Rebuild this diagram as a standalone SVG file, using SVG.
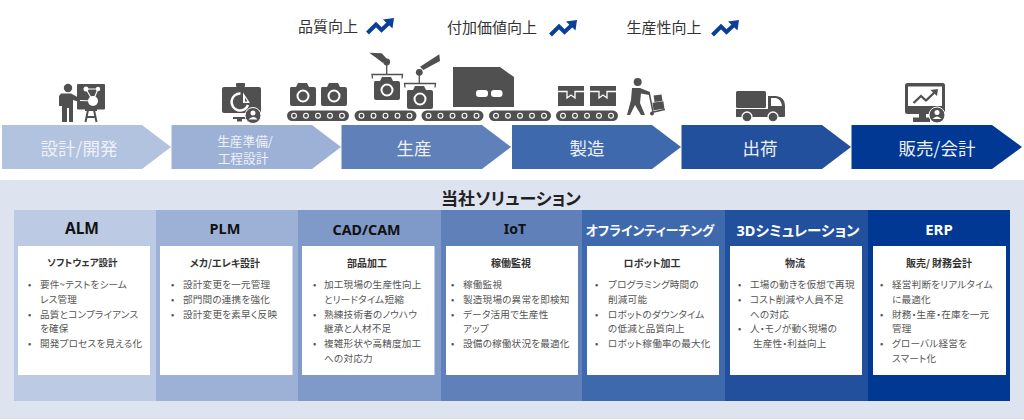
<svg xmlns="http://www.w3.org/2000/svg" width="1024" height="420" viewBox="0 0 1024 420">
<defs>
<style>
text{font-family:"Noto Sans CJK JP","Noto Sans",sans-serif;font-feature-settings:"palt"}
.ic{fill:#505050}
.top{font-size:15px;fill:#333;text-anchor:middle;dominant-baseline:central}
.ch{fill:#eef1f7;text-anchor:middle;dominant-baseline:central;font-size:17.5px}
.hd{font-family:"Noto Sans","Noto Sans CJK JP",sans-serif;font-weight:700;font-size:15.5px;text-anchor:middle;dominant-baseline:central}
.sub{font-weight:700;font-size:10px;fill:#333;text-anchor:middle;dominant-baseline:central}
.b{font-size:9.6px;letter-spacing:.2px;fill:#555;dominant-baseline:central}
.box{fill:#fff}
.wh{fill:#fff}
</style>
<g id="arr"><path d="M1.500 15 10 6.500 15.500 12 24 4" fill="none" stroke="#0a3f99" stroke-width="4"/><path d="M28 0 17 1.500 26.500 10.500Z" fill="#0a3f99"/></g>
<g id="belt"><rect x="0" y="0" width="62" height="10.500" rx="5.200" class="ic"/><g fill="#505050" stroke="#fff" stroke-width="1.100"><circle cx="7" cy="5.200" r="2.400"/><circle cx="19" cy="5.200" r="2.400"/><circle cx="31" cy="5.200" r="2.400"/><circle cx="43" cy="5.200" r="2.400"/><circle cx="55" cy="5.200" r="2.400"/></g></g>
<g id="cam"><path d="M1 5Q0 5 0 7V22Q0 24 2 24H24Q26 24 26 22V7Q26 5 24 5H19L17 1H8L6 5Z" class="ic"/><circle cx="13" cy="14" r="5.500" fill="#505050" stroke="#fff" stroke-width="2"/></g>
<g id="box"><rect width="26" height="20" class="ic"/><path d="M0 5.500H9V12L13 9 17 12V5.500H26" fill="none" stroke="#fff" stroke-width="1.300"/></g>
<g id="usr"><circle r="8" class="ic" stroke="#fff" stroke-width="1"/><circle cy="-2.500" r="2.500" class="wh"/><path d="M-4.500 4Q0 -1 4.500 4Z" class="wh"/></g>
</defs>
<rect width="1024" height="420" fill="#fff"/>
<g id="labels">
<text class="top" x="328" y="25">品質向上</text>
<text class="top" x="492" y="26">付加価値向上</text>
<text class="top" x="664" y="26">生産性向上</text>
<use href="#arr" x="366" y="18"/>
<use href="#arr" x="549" y="20"/>
<use href="#arr" x="711" y="20"/>
</g>
<g id="icons">
<g id="icon-design">
<circle cx="68" cy="88" r="4.200" class="ic"/>
<path d="M61 93.500H71L81 99 79.500 102 73 100V122H69V108H67V122H62V106H59V96Z" class="ic"/>
<rect x="77" y="84" width="28" height="25.500" rx="1" class="ic"/>
<path d="M86 89H98L93 101 80 100.500M86 89 93 101" stroke="#fff" stroke-width="1.200" fill="none"/>
<circle cx="86" cy="89" r="2.500" class="wh"/><circle cx="98" cy="89" r="2.200" class="wh"/><circle cx="93" cy="101" r="5" class="wh"/>
<path d="M85 110H97M88 110 85.500 122M94 110 96.500 122M86.500 117H95.500" stroke="#505050" stroke-width="2" fill="none"/>
</g>
<g id="icon-prep">
<rect x="222" y="87" width="39" height="26" rx="2" class="ic"/>
<rect x="236" y="83" width="9" height="4" rx="1" class="ic"/>
<path d="M240.500 93.500A8.500 8.500 0 1 0 248 105" fill="none" stroke="#fff" stroke-width="2.500"/>
<path d="M243 92.500 250 103H243Z" class="wh"/>
<path d="M245 97.500 247.500 101.500H245Z" class="ic"/>
<path d="M233 117H246V119H242V121.500H237V119H233Z" class="ic"/>
<use href="#usr" x="253" y="115.500"/>
</g>
<g id="icon-production">
<use href="#cam" x="290" y="82"/><use href="#cam" x="321" y="82"/>
<use href="#belt" x="287" y="110.500"/><use href="#belt" x="354.500" y="110.500"/><use href="#belt" x="421.500" y="110.500"/><use href="#belt" x="489" y="110.500"/>
<use href="#cam" x="374" y="76"/><use href="#cam" x="407" y="85"/>
<path d="M369.300 52.700 381.700 53.300 387 59 383 63 376.700 58.300ZM439.300 54.300 440 61 423.300 70 420 66.700Z" class="ic"/>
<circle cx="386.700" cy="62" r="3.400" class="ic"/><circle cx="419.300" cy="72.300" r="3.400" class="ic"/>
<path d="M386.700 64V74.500M372.500 78.500 372 74.500H402.500L402 78.500M419.300 74V83.500M405 87.500 404.500 83.500H435.500L435 87.500" stroke="#505050" stroke-width="1.300" fill="none"/>
<path d="M453 67H500L514 77V107H453Z" class="ic"/>
<rect x="476" y="90" width="12" height="7" rx="3" class="wh"/><rect x="491" y="90" width="11.500" height="7" rx="3" class="wh"/>
</g>
<g id="icon-mfg">
<use href="#belt" x="556" y="110.500"/>
<use href="#box" x="558" y="86"/><use href="#box" x="590" y="86"/>
<circle cx="637.700" cy="82" r="4" class="ic"/>
<path d="M632 88H640L650 92 649 95 641 93.500 640 103 645 115H641L635 105 630 115H627L631 100Z" class="ic"/>
<path d="M649 92 653 112 665 109.500" stroke="#505050" stroke-width="1.500" fill="none"/>
<rect x="653" y="102" width="11" height="7.500" class="ic" transform="rotate(-8 658 106)"/>
<rect x="654" y="95" width="8" height="6.500" class="ic" transform="rotate(-8 658 98)"/>
<circle cx="652" cy="113.500" r="2" class="ic"/>
</g>
<g id="icon-ship">
<rect x="736" y="91" width="30" height="17" rx="1.500" class="ic"/>
<path d="M768 96H776Q785 97 785 106V116Q785 117 784 117H736V109H768Z" class="ic"/>
<path d="M771 98H776Q781 99 782 106H771Z" class="wh"/>
<circle cx="747" cy="117" r="5" class="ic" stroke="#fff" stroke-width="1.300"/><circle cx="773" cy="117" r="5" class="ic" stroke="#fff" stroke-width="1.300"/>
</g>
<g id="icon-sales">
<rect x="905" y="83" width="40" height="31" rx="2.500" class="ic"/>
<rect x="908" y="86.500" width="34" height="19.500" class="wh"/>
<path d="M913.500 103 921 96 926 100.500 935 92" stroke="#505050" stroke-width="2.300" fill="none"/>
<path d="M938 89 937 96 930.500 90Z" class="ic"/>
<path d="M913 117.500H930V122H913Z M919 114H926V118H919Z" class="ic"/>
<use href="#usr" x="937" y="115"/>
</g>
</g>
<g id="flow">
<g id="step1"><path d="M2 125H142L171 147 142 169H2Z" fill="#b2c3df"/><text class="ch" x="79" y="147">設計/開発</text></g>
<g id="step2"><path d="M171.500 125H312L341 147 312 169H171.500Z" fill="#9db1d6"/><text class="ch" x="245" y="140" style="font-size:12.700px">生産準備/</text><text class="ch" x="243" y="157" style="font-size:12.700px">工程設計</text></g>
<g id="step3"><path d="M341.500 125H482L511 147 482 169H341.500Z" fill="#5f80b8"/><text class="ch" x="414" y="147">生産</text></g>
<g id="step4"><path d="M512 125H652L681 147 652 169H512Z" fill="#3f69ad"/><text class="ch" x="587" y="147">製造</text></g>
<g id="step5"><path d="M681.500 125H822L851 147 822 169H681.500Z" fill="#22509d"/><text class="ch" x="760" y="147">出荷</text></g>
<g id="step6"><path d="M851.500 125H992L1022 147 992 169H851.500Z" fill="#003893"/><text class="ch" x="937" y="147">販売/会計</text></g>
</g>
<rect id="panel" x="0" y="180" width="1024" height="239" fill="#dde3ef"/>
<text id="title" x="511" y="197" text-anchor="middle" dominant-baseline="central" font-weight="700" font-size="17" fill="#222">当社ソリューション</text>
<g id="alm"><rect x="14" y="210" width="142" height="191" fill="#bccbe3"/><rect class="box" x="18" y="246" width="132" height="129"/>
<text class="hd" x="82" y="228" fill="#111">ALM</text><text class="sub" x="82.500" y="262" style="font-size:9.500px">ソフトウェア設計</text>
<g class="b"><text x="28" y="284">•</text><text x="40" y="284">要件~テストをシーム</text><text x="40" y="299">レス管理</text><text x="28" y="314">•</text><text x="40" y="314">品質とコンプライアンス</text><text x="40" y="328">を確保</text><text x="28" y="343">•</text><text x="40" y="343">開発プロセスを見える化</text></g></g>
<g id="plm"><rect x="156" y="210" width="142" height="191" fill="#9db1d6"/><rect class="box" x="160" y="246" width="132.500" height="129"/>
<text class="hd" x="225" y="228" fill="#111" style="font-size:14.500px">PLM</text><text class="sub" x="225" y="262">メカ/エレキ設計</text>
<g class="b"><text x="171" y="284">•</text><text x="183" y="284">設計変更を一元管理</text><text x="171" y="299">•</text><text x="183" y="299">部門間の連携を強化</text><text x="171" y="314">•</text><text x="183" y="314">設計変更を素早く反映</text></g></g>
<g id="cad"><rect x="298" y="210" width="143" height="191" fill="#7f9ac8"/><rect class="box" x="302" y="246" width="132.500" height="129"/>
<text class="hd" x="366.500" y="229" fill="#111" style="font-size:14.300px">CAD/CAM</text><text class="sub" x="367" y="262">部品加工</text>
<g class="b"><text x="313" y="284">•</text><text x="324" y="284">加工現場の生産性向上</text><text x="324" y="299">とリードタイム短縮</text><text x="313" y="314">•</text><text x="324" y="314">熟練技術者のノウハウ</text><text x="324" y="328">継承と人材不足</text><text x="313" y="343">•</text><text x="324" y="343">複雑形状や高精度加工</text><text x="324" y="358">への対応力</text></g></g>
<g id="iot"><rect x="441" y="210" width="141" height="191" fill="#5f80b8"/><rect class="box" x="446" y="246" width="132" height="129"/>
<text class="hd" x="515" y="228" fill="#111" style="font-size:14px">IoT</text><text class="sub" x="511" y="262">稼働監視</text>
<g class="b"><text x="451" y="284">•</text><text x="463" y="284">稼働監視</text><text x="451" y="299">•</text><text x="463" y="299">製造現場の異常を即検知</text><text x="451" y="314">•</text><text x="463" y="314">データ活用で生産性</text><text x="463" y="328">アップ</text><text x="451" y="343">•</text><text x="463" y="343">設備の稼働状況を最適化</text></g></g>
<g id="offline"><rect x="582" y="210" width="143" height="191" fill="#3f69ad"/><rect class="box" x="587" y="246" width="132" height="129"/>
<text class="hd" x="650" y="230" fill="#fff" style="font-size:12.900px">オフラインティーチング</text><text class="sub" x="652" y="262">ロボット加工</text>
<g class="b"><text x="595" y="284">•</text><text x="608" y="284">プログラミング時間の</text><text x="608" y="299">削減可能</text><text x="595" y="314">•</text><text x="608" y="314">ロボットのダウンタイム</text><text x="608" y="328">の低減と品質向上</text><text x="595" y="343">•</text><text x="608" y="343">ロボット稼働率の最大化</text></g></g>
<g id="sim"><rect x="725" y="210" width="143" height="191" fill="#22509d"/><rect class="box" x="730" y="246" width="132" height="129"/>
<text class="hd" x="798" y="230" fill="#fff" style="font-size:14.500px">3Dシミュレーション</text><text class="sub" x="795" y="262">物流</text>
<g class="b"><text x="738" y="284">•</text><text x="750" y="284">工場の動きを仮想で再現</text><text x="738" y="299">•</text><text x="750" y="299">コスト削減や人員不足</text><text x="750" y="314">への対応</text><text x="738" y="328">•</text><text x="750" y="328">人・モノが動く現場の</text><text x="753" y="343">生産性・利益向上</text></g></g>
<g id="erp"><rect x="868" y="210" width="142" height="191" fill="#003893"/><rect class="box" x="873" y="246" width="133" height="129"/>
<text class="hd" x="939" y="229" fill="#fff" style="font-size:15px">ERP</text><text class="sub" x="939" y="262">販売/ 財務会計</text>
<g class="b"><text x="880" y="284">•</text><text x="892" y="284">経営判断をリアルタイム</text><text x="892" y="299">に最適化</text><text x="880" y="314">•</text><text x="892" y="314">財務・生産・在庫を一元</text><text x="892" y="328">管理</text><text x="880" y="343">•</text><text x="892" y="343">グローバル経営を</text><text x="892" y="358">スマート化</text></g></g>
</svg>
